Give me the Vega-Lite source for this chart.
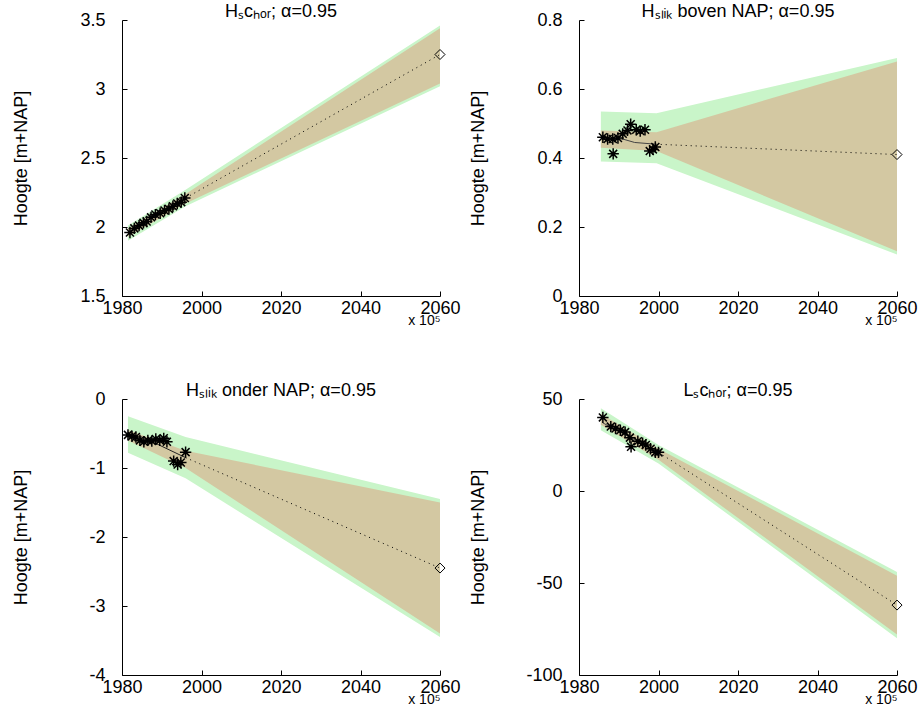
{
  "$schema": "https://vega.github.io/schema/vega-lite/v6.json",
  "background": "white",
  "padding": {"left": 12, "top": 3, "right": 0, "bottom": 0},
  "config": {
    "font": "Liberation Sans",
    "view": {"stroke": null},
    "scale": {"nice": false, "zero": false},
    "axis": {"domainColor": "black", "tickColor": "black", "labelColor": "black", "titleColor": "black", "labelFontSize": 18, "titleFontSize": 18, "titleFontWeight": "normal", "grid": false, "tickSize": -5, "labelPadding": 22, "labelFlush": false, "labelOverlap": false},
    "axisX": {"titleFontSize": 14, "titlePadding": -4, "labelPadding": 8},
    "title": {"fontSize": 18, "fontWeight": "normal", "color": "black", "offset": -10}
  },
  "datasets": {
    "pts": [
      {"p": 1, "x": 1982.0, "y": 1.96}, {"p": 1, "x": 1983.1, "y": 1.99}, {"p": 1, "x": 1984.3, "y": 2.01}, {"p": 1, "x": 1985.4, "y": 2.03}, {"p": 1, "x": 1986.2, "y": 2.04}, {"p": 1, "x": 1987.3, "y": 2.07}, {"p": 1, "x": 1988.4, "y": 2.09}, {"p": 1, "x": 1989.6, "y": 2.1}, {"p": 1, "x": 1990.7, "y": 2.12}, {"p": 1, "x": 1991.8, "y": 2.13}, {"p": 1, "x": 1992.8, "y": 2.15}, {"p": 1, "x": 1993.9, "y": 2.17}, {"p": 1, "x": 1994.9, "y": 2.18}, {"p": 1, "x": 1995.8, "y": 2.21},
      {"p": 2, "x": 1986.0, "y": 0.46}, {"p": 2, "x": 1987.2, "y": 0.455}, {"p": 2, "x": 1988.5, "y": 0.455}, {"p": 2, "x": 1988.6, "y": 0.412}, {"p": 2, "x": 1989.8, "y": 0.458}, {"p": 2, "x": 1991.0, "y": 0.47}, {"p": 2, "x": 1992.2, "y": 0.48}, {"p": 2, "x": 1993.0, "y": 0.498}, {"p": 2, "x": 1994.4, "y": 0.482}, {"p": 2, "x": 1995.4, "y": 0.478}, {"p": 2, "x": 1996.6, "y": 0.482}, {"p": 2, "x": 1997.8, "y": 0.42}, {"p": 2, "x": 1998.6, "y": 0.425}, {"p": 2, "x": 1999.2, "y": 0.432},
      {"p": 3, "x": 1981.5, "y": -0.52}, {"p": 3, "x": 1982.5, "y": -0.54}, {"p": 3, "x": 1983.5, "y": -0.55}, {"p": 3, "x": 1984.5, "y": -0.6}, {"p": 3, "x": 1985.5, "y": -0.62}, {"p": 3, "x": 1986.5, "y": -0.6}, {"p": 3, "x": 1987.5, "y": -0.61}, {"p": 3, "x": 1988.5, "y": -0.58}, {"p": 3, "x": 1989.5, "y": -0.6}, {"p": 3, "x": 1990.5, "y": -0.57}, {"p": 3, "x": 1991.3, "y": -0.62}, {"p": 3, "x": 1993.0, "y": -0.9}, {"p": 3, "x": 1994.0, "y": -0.95}, {"p": 3, "x": 1994.8, "y": -0.92}, {"p": 3, "x": 1996.0, "y": -0.77},
      {"p": 4, "x": 1986.0, "y": 40}, {"p": 4, "x": 1988.0, "y": 35}, {"p": 4, "x": 1989.2, "y": 34}, {"p": 4, "x": 1990.4, "y": 33}, {"p": 4, "x": 1991.6, "y": 32}, {"p": 4, "x": 1992.8, "y": 29}, {"p": 4, "x": 1993.1, "y": 24}, {"p": 4, "x": 1994.8, "y": 27}, {"p": 4, "x": 1996.0, "y": 26}, {"p": 4, "x": 1996.8, "y": 25}, {"p": 4, "x": 1998.0, "y": 23}, {"p": 4, "x": 1999.2, "y": 21}, {"p": 4, "x": 2000.0, "y": 21}
    ],
    "pred": [
      {"p": 1, "x": 2060, "y": 3.25}, {"p": 2, "x": 2060, "y": 0.41}, {"p": 3, "x": 2060, "y": -2.45}, {"p": 4, "x": 2060, "y": -62}
    ],
    "fit": [
      {"p": 1, "x": 1982, "y": 1.97}, {"p": 1, "x": 1996, "y": 2.21},
      {"p": 2, "x": 1986, "y": 0.455}, {"p": 2, "x": 1991, "y": 0.455}, {"p": 2, "x": 1994, "y": 0.445}, {"p": 2, "x": 1999.3, "y": 0.44},
      {"p": 3, "x": 1981.5, "y": -0.55}, {"p": 3, "x": 1988, "y": -0.63}, {"p": 3, "x": 1996, "y": -0.85},
      {"p": 4, "x": 1986, "y": 37}, {"p": 4, "x": 2000, "y": 21}
    ],
    "ext": [
      {"p": 1, "x": 1996, "y": 2.21}, {"p": 1, "x": 2060, "y": 3.25},
      {"p": 2, "x": 1999.3, "y": 0.44}, {"p": 2, "x": 2060, "y": 0.41},
      {"p": 3, "x": 1996, "y": -0.85}, {"p": 3, "x": 2060, "y": -2.45},
      {"p": 4, "x": 2000, "y": 21}, {"p": 4, "x": 2060, "y": -62}
    ],
    "band": [
      {"p": 1, "x": 1981.5, "glo": 1.9, "ghi": 2.01, "tlo": 1.93, "thi": 1.99}, {"p": 1, "x": 1996, "glo": 2.15, "ghi": 2.27, "tlo": 2.17, "thi": 2.24}, {"p": 1, "x": 2060, "glo": 3.02, "ghi": 3.46, "tlo": 3.04, "thi": 3.44},
      {"p": 2, "x": 1985.5, "glo": 0.39, "ghi": 0.535, "tlo": 0.43, "thi": 0.48}, {"p": 2, "x": 1999.5, "glo": 0.385, "ghi": 0.53, "tlo": 0.42, "thi": 0.475}, {"p": 2, "x": 2060, "glo": 0.12, "ghi": 0.69, "tlo": 0.13, "thi": 0.68},
      {"p": 3, "x": 1981.5, "glo": -0.78, "ghi": -0.25, "tlo": -0.6, "thi": -0.45}, {"p": 3, "x": 1996, "glo": -1.15, "ghi": -0.55, "tlo": -1.0, "thi": -0.75}, {"p": 3, "x": 2060, "glo": -3.45, "ghi": -1.45, "tlo": -3.4, "thi": -1.5},
      {"p": 4, "x": 1985.5, "glo": 33, "ghi": 45, "tlo": 36, "thi": 42}, {"p": 4, "x": 2000, "glo": 15, "ghi": 25, "tlo": 17, "thi": 23}, {"p": 4, "x": 2060, "glo": -80, "ghi": -44, "tlo": -78, "thi": -46}
    ]
  },
  "columns": 2,
  "bounds": "flush",
  "spacing": {"row": 103, "column": 139},
  "concat": [
      {"title": "Hₛcₕₒᵣ; α=0.95", "width": 318, "height": 276,
       "layer": [
        {"data": {"name": "band"}, "transform": [{"filter": "datum.p==1"}], "mark": {"type": "area", "color": "#c9f5c9", "opacity": 1},
         "encoding": {"x": {"field": "x", "type": "quantitative", "scale": {"domain": [1980, 2060], "nice": false}, "axis": {"values": [1980, 2000, 2020, 2040, 2060], "format": "d", "title": "x 10⁵", "titleAnchor": "end", "titleAlign": "right"}},
                      "y": {"field": "glo", "type": "quantitative", "scale": {"domain": [1.5, 3.5], "nice": false}, "axis": {"values": [1.5, 2, 2.5, 3, 3.5], "labelExpr": "'' + datum.value", "title": "Hoogte [m+NAP]", "titlePadding": 49}}, "y2": {"field": "ghi"}}},
        {"data": {"name": "band"}, "transform": [{"filter": "datum.p==1"}], "mark": {"type": "area", "color": "#d3c8a2", "opacity": 1},
         "encoding": {"x": {"field": "x", "type": "quantitative"}, "y": {"field": "tlo", "type": "quantitative"}, "y2": {"field": "thi"}}},
        {"data": {"name": "fit"}, "transform": [{"filter": "datum.p==1"}], "mark": {"type": "line", "color": "#444444", "strokeWidth": 1},
         "encoding": {"x": {"field": "x", "type": "quantitative"}, "y": {"field": "y", "type": "quantitative"}}},
        {"data": {"name": "ext"}, "transform": [{"filter": "datum.p==1"}], "mark": {"type": "line", "color": "black", "strokeWidth": 1, "strokeDash": [1, 4]},
         "encoding": {"x": {"field": "x", "type": "quantitative"}, "y": {"field": "y", "type": "quantitative"}}},
        {"data": {"name": "pts"}, "transform": [{"filter": "datum.p==1"}], "mark": {"type": "point", "shape": "M-1,0L1,0M0,-1L0,1M-0.7,-0.7L0.7,0.7M-0.7,0.7L0.7,-0.7", "filled": false, "color": "black", "strokeWidth": 1.5, "size": 130, "opacity": 1},
         "encoding": {"x": {"field": "x", "type": "quantitative"}, "y": {"field": "y", "type": "quantitative"}}},
        {"data": {"name": "pred"}, "transform": [{"filter": "datum.p==1"}], "mark": {"type": "point", "shape": "diamond", "filled": false, "color": "black", "strokeWidth": 1, "size": 100, "opacity": 1},
         "encoding": {"x": {"field": "x", "type": "quantitative"}, "y": {"field": "y", "type": "quantitative"}}}
       ]},
      {"title": "Hₛₗᵢₖ boven NAP; α=0.95", "width": 318, "height": 276,
       "layer": [
        {"data": {"name": "band"}, "transform": [{"filter": "datum.p==2"}], "mark": {"type": "area", "color": "#c9f5c9", "opacity": 1},
         "encoding": {"x": {"field": "x", "type": "quantitative", "scale": {"domain": [1980, 2060], "nice": false}, "axis": {"values": [1980, 2000, 2020, 2040, 2060], "format": "d", "title": "x 10⁵", "titleAnchor": "end", "titleAlign": "right"}},
                      "y": {"field": "glo", "type": "quantitative", "scale": {"domain": [0, 0.8], "nice": false}, "axis": {"values": [0, 0.2, 0.4, 0.6, 0.8], "labelExpr": "'' + datum.value", "title": "Hoogte [m+NAP]", "titlePadding": 49}}, "y2": {"field": "ghi"}}},
        {"data": {"name": "band"}, "transform": [{"filter": "datum.p==2"}], "mark": {"type": "area", "color": "#d3c8a2", "opacity": 1},
         "encoding": {"x": {"field": "x", "type": "quantitative"}, "y": {"field": "tlo", "type": "quantitative"}, "y2": {"field": "thi"}}},
        {"data": {"name": "fit"}, "transform": [{"filter": "datum.p==2"}], "mark": {"type": "line", "color": "#444444", "strokeWidth": 1},
         "encoding": {"x": {"field": "x", "type": "quantitative"}, "y": {"field": "y", "type": "quantitative"}}},
        {"data": {"name": "ext"}, "transform": [{"filter": "datum.p==2"}], "mark": {"type": "line", "color": "black", "strokeWidth": 1, "strokeDash": [1, 4]},
         "encoding": {"x": {"field": "x", "type": "quantitative"}, "y": {"field": "y", "type": "quantitative"}}},
        {"data": {"name": "pts"}, "transform": [{"filter": "datum.p==2"}], "mark": {"type": "point", "shape": "M-1,0L1,0M0,-1L0,1M-0.7,-0.7L0.7,0.7M-0.7,0.7L0.7,-0.7", "filled": false, "color": "black", "strokeWidth": 1.5, "size": 130, "opacity": 1},
         "encoding": {"x": {"field": "x", "type": "quantitative"}, "y": {"field": "y", "type": "quantitative"}}},
        {"data": {"name": "pred"}, "transform": [{"filter": "datum.p==2"}], "mark": {"type": "point", "shape": "diamond", "filled": false, "color": "black", "strokeWidth": 1, "size": 100, "opacity": 1},
         "encoding": {"x": {"field": "x", "type": "quantitative"}, "y": {"field": "y", "type": "quantitative"}}}
       ]},
      {"title": "Hₛₗᵢₖ onder NAP; α=0.95", "width": 318, "height": 276,
       "layer": [
        {"data": {"name": "band"}, "transform": [{"filter": "datum.p==3"}], "mark": {"type": "area", "color": "#c9f5c9", "opacity": 1},
         "encoding": {"x": {"field": "x", "type": "quantitative", "scale": {"domain": [1980, 2060], "nice": false}, "axis": {"values": [1980, 2000, 2020, 2040, 2060], "format": "d", "title": "x 10⁵", "titleAnchor": "end", "titleAlign": "right"}},
                      "y": {"field": "glo", "type": "quantitative", "scale": {"domain": [-4, 0], "nice": false}, "axis": {"values": [-4, -3, -2, -1, 0], "labelExpr": "'' + datum.value", "title": "Hoogte [m+NAP]", "titlePadding": 58}}, "y2": {"field": "ghi"}}},
        {"data": {"name": "band"}, "transform": [{"filter": "datum.p==3"}], "mark": {"type": "area", "color": "#d3c8a2", "opacity": 1},
         "encoding": {"x": {"field": "x", "type": "quantitative"}, "y": {"field": "tlo", "type": "quantitative"}, "y2": {"field": "thi"}}},
        {"data": {"name": "fit"}, "transform": [{"filter": "datum.p==3"}], "mark": {"type": "line", "color": "#222222", "strokeWidth": 1},
         "encoding": {"x": {"field": "x", "type": "quantitative"}, "y": {"field": "y", "type": "quantitative"}}},
        {"data": {"name": "ext"}, "transform": [{"filter": "datum.p==3"}], "mark": {"type": "line", "color": "black", "strokeWidth": 1, "strokeDash": [1, 4]},
         "encoding": {"x": {"field": "x", "type": "quantitative"}, "y": {"field": "y", "type": "quantitative"}}},
        {"data": {"name": "pts"}, "transform": [{"filter": "datum.p==3"}], "mark": {"type": "point", "shape": "M-1,0L1,0M0,-1L0,1M-0.7,-0.7L0.7,0.7M-0.7,0.7L0.7,-0.7", "filled": false, "color": "black", "strokeWidth": 1.5, "size": 130, "opacity": 1},
         "encoding": {"x": {"field": "x", "type": "quantitative"}, "y": {"field": "y", "type": "quantitative"}}},
        {"data": {"name": "pred"}, "transform": [{"filter": "datum.p==3"}], "mark": {"type": "point", "shape": "diamond", "filled": false, "color": "black", "strokeWidth": 1, "size": 100, "opacity": 1},
         "encoding": {"x": {"field": "x", "type": "quantitative"}, "y": {"field": "y", "type": "quantitative"}}}
       ]},
      {"title": "Lₛcₕₒᵣ; α=0.95", "width": 318, "height": 276,
       "layer": [
        {"data": {"name": "band"}, "transform": [{"filter": "datum.p==4"}], "mark": {"type": "area", "color": "#c9f5c9", "opacity": 1},
         "encoding": {"x": {"field": "x", "type": "quantitative", "scale": {"domain": [1980, 2060], "nice": false}, "axis": {"values": [1980, 2000, 2020, 2040, 2060], "format": "d", "title": "x 10⁵", "titleAnchor": "end", "titleAlign": "right"}},
                      "y": {"field": "glo", "type": "quantitative", "scale": {"domain": [-100, 50], "nice": false}, "axis": {"values": [-100, -50, 0, 50], "labelExpr": "'' + datum.value", "title": "Hoogte [m+NAP]", "titlePadding": 38}}, "y2": {"field": "ghi"}}},
        {"data": {"name": "band"}, "transform": [{"filter": "datum.p==4"}], "mark": {"type": "area", "color": "#d3c8a2", "opacity": 1},
         "encoding": {"x": {"field": "x", "type": "quantitative"}, "y": {"field": "tlo", "type": "quantitative"}, "y2": {"field": "thi"}}},
        {"data": {"name": "fit"}, "transform": [{"filter": "datum.p==4"}], "mark": {"type": "line", "color": "#444444", "strokeWidth": 1},
         "encoding": {"x": {"field": "x", "type": "quantitative"}, "y": {"field": "y", "type": "quantitative"}}},
        {"data": {"name": "ext"}, "transform": [{"filter": "datum.p==4"}], "mark": {"type": "line", "color": "black", "strokeWidth": 1, "strokeDash": [1, 4]},
         "encoding": {"x": {"field": "x", "type": "quantitative"}, "y": {"field": "y", "type": "quantitative"}}},
        {"data": {"name": "pts"}, "transform": [{"filter": "datum.p==4"}], "mark": {"type": "point", "shape": "M-1,0L1,0M0,-1L0,1M-0.7,-0.7L0.7,0.7M-0.7,0.7L0.7,-0.7", "filled": false, "color": "black", "strokeWidth": 1.5, "size": 130, "opacity": 1},
         "encoding": {"x": {"field": "x", "type": "quantitative"}, "y": {"field": "y", "type": "quantitative"}}},
        {"data": {"name": "pred"}, "transform": [{"filter": "datum.p==4"}], "mark": {"type": "point", "shape": "diamond", "filled": false, "color": "black", "strokeWidth": 1, "size": 100, "opacity": 1},
         "encoding": {"x": {"field": "x", "type": "quantitative"}, "y": {"field": "y", "type": "quantitative"}}}
       ]}
  ]
}
